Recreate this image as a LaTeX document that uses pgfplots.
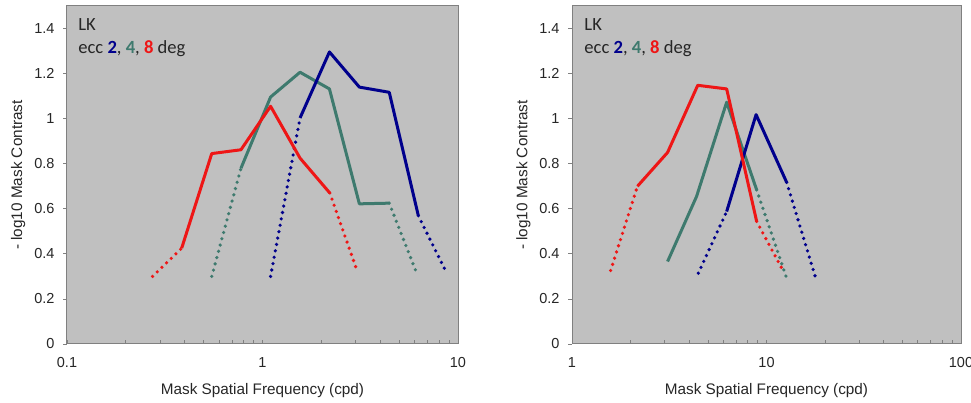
\documentclass[border=0pt]{standalone}
\usepackage{fontspec}
\setmainfont{Liberation Sans}
\newfontfamily\calfont{Carlito}
\usepackage{pgfplots}
\pgfplotsset{compat=1.18}
\definecolor{cblue}{RGB}{0,0,140}
\definecolor{cteal}{RGB}{62,122,110}
\definecolor{cred}{RGB}{238,22,22}
\definecolor{bg}{RGB}{192,192,192}
\definecolor{frame}{RGB}{128,128,128}
\tikzset{leg/.style={anchor=west, font=\calfont\fontsize{18.6}{20}\selectfont, text=black!85}}
\pgfplotsset{
  lk/.style={
    scale only axis, height=338pt, ymin=0, ymax=1.5,
    axis background/.style={fill=bg},
    axis line style={frame, line width=1pt},
    ytick={0,0.2,0.4,0.6,0.8,1,1.2,1.4},
    yticklabels={0,0.2,0.4,0.6,0.8,1,1.2,1.4},
    ytick align=outside, ytick pos=left,
    xtick align=inside, xtick pos=bottom,
    major tick length=4pt, minor tick length=4pt,
    tick style={frame, line width=0.8pt},
    /pgf/number format/assume math mode=true,
    ticklabel style={font=\fontsize{14.5}{16}\selectfont, text=black!85},
    xticklabel style={yshift=-10pt},
    yticklabel style={xshift=-5pt},
    label style={font=\fontsize{15.3}{17}\selectfont, text=black!85},
    xlabel style={at={(axis description cs:0.5,-0.137)}, anchor=center},
    ylabel style={at={(axis description cs:-0.125,0.5)}, anchor=center, rotate=0},
    xlabel={Mask Spatial Frequency (cpd)},
    ylabel={- log10 Mask Contrast},
    clip=false,
  },
  sol/.style={line width=3pt, line join=round},
  dot/.style={line width=3.6pt, line cap=round, dash pattern=on 0pt off 6.5pt},
}
\begin{document}
\begin{tikzpicture}
\path[use as bounding box] (0,0) rectangle (971pt,403pt);
% left
\begin{semilogxaxis}[lk, at={(67pt,59pt)}, anchor=south west, width=391pt,
  xmin=0.1, xmax=10, xtick={0.1,1,10}, xticklabels={0.1,1,10},
  minor xtick={0.2,0.3,0.4,0.5,0.6,0.7,0.8,0.9,2,3,4,5,6,7,8,9}]
\addplot[cteal, dot] coordinates {(0.55,0.30)(0.776,0.78)};
\addplot[cteal, sol] coordinates {(0.776,0.78)(1.10,1.096)(1.556,1.206)(2.2,1.132)(3.13,0.622)(4.45,0.625)};
\addplot[cteal, dot] coordinates {(4.45,0.625)(6.15,0.314)};
\addplot[cblue, dot] coordinates {(1.10,0.30)(1.556,1.003)};
\addplot[cblue, sol] coordinates {(1.556,1.003)(2.2,1.296)(3.13,1.14)(4.45,1.117)(6.27,0.569)};
\addplot[cblue, dot] coordinates {(6.27,0.569)(8.59,0.329)};
\addplot[cred, dot] coordinates {(0.274,0.30)(0.386,0.425)};
\addplot[cred, sol] coordinates {(0.386,0.425)(0.55,0.845)(0.776,0.862)(1.10,1.055)(1.556,0.825)(2.21,0.67)};
\addplot[cred, dot] coordinates {(2.21,0.67)(3.07,0.317)};
\node[leg] at (rel axis cs:0.02,0.944) {LK};
\node[leg] at (rel axis cs:0.02,0.874) {ecc \textbf{\color{cblue}2}, \textbf{\color{cteal}4}, \textbf{\color{cred}8} deg};
\end{semilogxaxis}
% right
\begin{semilogxaxis}[lk, at={(572pt,59pt)}, anchor=south west, width=389pt,
  xmin=1, xmax=100, xtick={1,10,100}, xticklabels={1,10,100},
  minor xtick={2,3,4,5,6,7,8,9,20,30,40,50,60,70,80,90}]
\addplot[cteal, sol] coordinates {(3.10,0.366)(4.37,0.655)(6.24,1.073)(8.9,0.684)};
\addplot[cteal, dot] coordinates {(8.9,0.684)(12.6,0.30)};
\addplot[cblue, dot] coordinates {(4.46,0.314)(6.24,0.588)};
\addplot[cblue, sol] coordinates {(6.24,0.588)(8.84,1.018)(12.7,0.717)};
\addplot[cblue, dot] coordinates {(12.7,0.717)(17.8,0.30)};
\addplot[cred, dot] coordinates {(1.58,0.326)(2.17,0.70)};
\addplot[cred, sol] coordinates {(2.17,0.70)(3.10,0.85)(4.43,1.148)(6.24,1.132)(8.9,0.544)};
\addplot[cred, dot] coordinates {(8.9,0.544)(12.1,0.329)};
\node[leg] at (rel axis cs:0.023,0.944) {LK};
\node[leg] at (rel axis cs:0.023,0.874) {ecc \textbf{\color{cblue}2}, \textbf{\color{cteal}4}, \textbf{\color{cred}8} deg};
\end{semilogxaxis}
\end{tikzpicture}
\end{document}
